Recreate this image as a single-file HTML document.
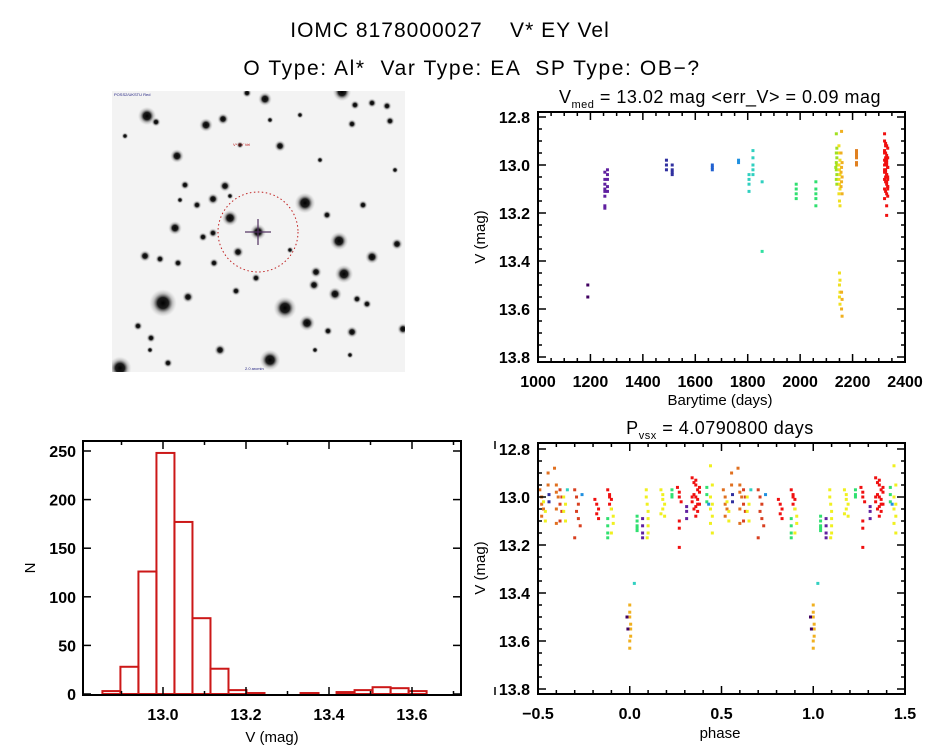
<!DOCTYPE html>
<html><head><meta charset="utf-8">
<style>
html,body{margin:0;padding:0;background:#fff;}
svg{display:block;font-family:"Liberation Sans",sans-serif;}
</style></head>
<body>
<svg id="root" width="944" height="747" viewBox="0 0 944 747" xmlns="http://www.w3.org/2000/svg">
<defs>
<radialGradient id="star" cx="50%" cy="50%" r="50%">
<stop offset="0%" stop-color="#000"/>
<stop offset="40%" stop-color="#111" stop-opacity="0.95"/>
<stop offset="70%" stop-color="#666" stop-opacity="0.35"/>
<stop offset="100%" stop-color="#aaa" stop-opacity="0"/>
</radialGradient>
<clipPath id="skyclip"><rect x="112" y="91" width="293" height="281"/></clipPath>
</defs>
<text x="450" y="37" font-size="21" letter-spacing="1" text-anchor="middle">IOMC 8178000027 &#160;&#160; V* EY Vel</text>
<text x="472" y="75" font-size="21" letter-spacing="1.6" text-anchor="middle">O Type: Al* &#160;Var Type: EA &#160;SP Type: OB−?</text>
<g id="sky" clip-path="url(#skyclip)">
<rect x="112" y="91" width="293" height="281" fill="#f3f3f3"/>
</g>
<g id="lc"></g>
<g id="hist"></g>
<g id="ph"></g>
<g fill="#000">
<rect x="537" y="111" width="369" height="2"/>
<rect x="537" y="361" width="369" height="2"/>
<rect x="537" y="111" width="2" height="252"/>
<rect x="904" y="111" width="2" height="252"/>
<rect x="82" y="440" width="380" height="2"/>
<rect x="82" y="694" width="380" height="2"/>
<rect x="82" y="440" width="2" height="256"/>
<rect x="460" y="440" width="2" height="256"/>
<rect x="537" y="442" width="369" height="2"/>
<rect x="537" y="693" width="369" height="2"/>
<rect x="537" y="442" width="2" height="253"/>
<rect x="904" y="442" width="2" height="253"/>
</g>
</svg>
<script>
// ---------- light curve data ----------
const lcColors = ['#400060','#6020a0','#3030a0','#2060d0','#2090e0','#30d0c0','#30e0a0','#30e070','#a0e020','#f0e020','#f0b020','#e08020','#f01010'];
const lcTimes = [
 [1190,1190],
 [1255,1255,1255,1255,1255,1255,1255,1255,1265,1265,1265,1265,1265],
 [1490,1490,1490,1512,1512,1512,1512],
 [1665,1665,1665],
 [1765,1765],
 [1805,1805,1805,1805,1820,1820,1820,1820,1820,1855],
 [1855],
 [1985,1985,1985,1985,2060,2060,2060,2060,2060],
 [2138,2140,2138,2140,2138,2140,2138,2140,2138,2140,2142,2136],
 [2148,2150,2152,2148,2150,2152,2148,2150,2152,2148,2150,2152,2150,2152,2150,2152,2150,2152],
 [2158,2156,2160,2158,2156,2160,2158,2156,2160,2158,2160,2158,2160],
 [2215,2215,2215,2215,2215,2215],
 [2322,2326,2330,2334,2322,2326,2330,2334,2322,2326,2330,2334,2322,2326,2330,2334,2322,2326,2330,2334,2322,2326,2330,2334,2322,2326,2330,2334,2322,2326,2330,2334,2322,2326,2330,2334,2322,2326,2330,2334,2322,2330,2330]
];
const lcMags = [
 [13.50,13.55],
 [13.03,13.06,13.08,13.10,13.11,13.13,13.17,13.18,13.02,13.04,13.06,13.09,13.11],
 [12.98,13.00,13.02,13.00,13.02,13.03,13.04],
 [13.00,13.01,13.02],
 [12.98,12.99],
 [13.04,13.06,13.08,13.11,12.94,12.97,13.00,13.02,13.04,13.07],
 [13.36],
 [13.08,13.10,13.12,13.14,13.07,13.10,13.12,13.14,13.17],
 [12.87,12.93,12.95,12.97,12.99,13.00,13.02,13.04,13.06,13.08,12.95,13.01],
 [12.92,12.95,12.98,13.00,13.02,13.04,13.06,13.08,13.10,13.12,13.15,13.17,13.45,13.48,13.50,13.53,13.55,13.58],
 [12.86,12.95,12.99,13.01,13.03,13.05,13.07,13.09,13.12,13.53,13.56,13.60,13.63],
 [12.94,12.95,12.96,12.97,12.99,13.00],
 [12.90,12.91,12.92,12.93,12.94,12.95,12.96,12.97,12.98,12.99,13.00,13.01,13.02,13.03,13.04,13.05,13.06,13.07,13.08,13.09,13.10,13.11,13.12,13.13,12.95,12.97,12.99,13.01,13.03,13.05,13.07,13.09,13.00,13.02,13.04,13.06,13.14,12.92,12.98,13.10,12.87,13.17,13.21]
];
const lcXTicks = [1000,1200,1400,1600,1800,2000,2200,2400];
const magTicks = [12.8,13.0,13.2,13.4,13.6,13.8];
const magTickLabels = ['12.8','13.0','13.2','13.4','13.6','13.8'];

// ---------- histogram data ----------
const histStart = 12.854;
const histWidth = 0.0434;
const histCounts = [3,28,126,248,177,78,26,4,1,0,0,1,0,2,4,7,6,3];
const histXTicks = [13.0,13.2,13.4,13.6];
const histXTickLabels = ['13.0','13.2','13.4','13.6'];
const histYTicks = [0,50,100,150,200,250];

// ---------- phase data ----------
const phColors = ['#f0b020','#400060','#30d0c0','#30e070','#6020a0','#f0f020','#f01010','#3030a0','#e07020','#d84020','#2090e0'];
const phColorIdx = [0,1,2,3,4,5,5,3,6,4,6,3,10,5,8,5,7,8,9,5,2,9,10,6,6,3,5];
const phPhases = [
 [0.0,0.0,0.0,0.005,0.005,0.005,0.0,0.0],
 [0.985,0.99],
 [0.025],
 [0.04,0.04,0.04,0.04,0.04],
 [0.07,0.07,0.07,0.07],
 [0.09,0.09,0.095,0.1,0.1,0.1,0.1,0.095],
 [0.17,0.18,0.18,0.19,0.18,0.17,0.19],
 [0.23,0.23,0.23],
 [0.26,0.27,0.27,0.28,0.27,0.27,0.27],
 [0.31,0.31,0.31],
 [0.34,0.35,0.36,0.37,0.38,0.35,0.36,0.37,0.34,0.38,0.36,0.35,0.37,0.36,0.38,0.34,0.36,0.37],
 [0.42,0.42,0.42],
 [0.43],
 [0.44,0.45,0.44,0.45,0.44,0.45,0.44,0.45],
 [0.51,0.52,0.52,0.53,0.52,0.555,0.555],
 [0.53,0.54,0.54],
 [0.56,0.56],
 [0.59,0.6,0.6,0.61,0.6,0.6],
 [0.62,0.63,0.62,0.63,0.62],
 [0.64,0.65,0.64,0.65],
 [0.66],
 [0.7,0.71,0.72,0.71,0.72,0.73,0.7],
 [0.74],
 [0.81,0.82,0.83,0.82,0.83],
 [0.88,0.89,0.9,0.89,0.9,0.89],
 [0.88,0.88,0.88,0.88],
 [0.9,0.91,0.91,0.9]
];
const phMags = [
 [13.45,13.48,13.50,13.53,13.55,13.58,13.60,13.63],
 [13.50,13.55],
 [13.36],
 [13.08,13.10,13.12,13.13,13.14],
 [13.09,13.12,13.15,13.17],
 [12.97,13.0,13.03,13.06,13.09,13.12,13.15,13.17],
 [12.97,12.99,13.01,13.03,13.05,13.07,13.08],
 [12.97,12.99,13.0],
 [12.96,12.98,13.0,13.02,13.1,13.13,13.21],
 [13.04,13.06,13.09],
 [12.92,12.94,12.95,12.97,12.98,12.99,13.0,13.01,13.02,13.03,13.04,13.05,13.06,13.08,12.96,13.0,12.93,13.03],
 [12.96,12.99,13.02],
 [13.03],
 [12.87,12.95,13.0,13.03,13.05,13.08,13.11,13.15],
 [12.97,13.0,13.03,13.05,13.08,12.9,12.95],
 [13.02,13.06,13.1],
 [12.99,13.02],
 [12.88,12.95,12.98,13.0,13.05,13.11],
 [12.97,13.0,13.03,13.06,13.1],
 [13.0,13.03,13.06,13.1],
 [12.97],
 [12.97,13.0,13.03,13.06,13.09,13.12,13.17],
 [12.99],
 [13.01,13.03,13.05,13.07,13.09],
 [12.97,12.99,13.01,13.03,13.05,13.0],
 [13.09,13.12,13.15,13.17],
 [13.05,13.08,13.11,13.15]
];
const phXTicks = [-0.5,0.0,0.5,1.0,1.5];
const phXTickLabels = ['−0.5','0.0','0.5','1.0','1.5'];

// ---------- sky image stars (decorative) ----------
const stars = [[147,116,8],[156,122,4],[206,125,6],[223,119,5],[265,99,6],[247,93,4],[342,92,8],[355,105,4],[372,103,4],[387,106,4],[352,124,4],[390,121,4],[177,156,6],[280,146,5],[225,186,5],[213,199,5],[230,218,7],[185,185,4],[175,228,6],[197,205,4],[203,237,4],[213,233,4],[238,252,5],[305,203,9],[327,215,4],[339,241,8],[397,244,5],[372,257,6],[145,256,5],[160,259,4],[178,263,4],[214,263,4],[316,272,5],[344,274,8],[314,285,5],[335,294,6],[357,299,4],[367,304,4],[163,303,12],[188,297,5],[236,291,4],[285,308,10],[307,323,7],[328,331,4],[352,332,5],[403,329,5],[138,326,4],[220,350,5],[270,360,9],[120,368,10],[168,363,4],[151,338,4],[256,278,4],[363,205,4],[258,232,7],[230,196,3],[320,160,3],[125,136,3],[300,115,3],[150,350,3],[395,170,3],[290,250,3],[180,200,3],[350,355,3],[315,350,3],[240,145,3],[270,120,3]];

const NS = 'http://www.w3.org/2000/svg';
function mk(tag, attrs, parent){
  const e = document.createElementNS(NS, tag);
  for (const k in attrs) e.setAttribute(k, attrs[k]);
  parent.appendChild(e);
  return e;
}
// sky
const sky = document.getElementById('sky');
stars.forEach(s => {
  const c = mk('circle', {cx:s[0], cy:s[1], r:s[2]*1.15, fill:'url(#star)'}, sky);
  
  
});
const ring = mk('circle', {cx:258, cy:232, r:40, fill:'none', stroke:'#c02020', 'stroke-width':1, 'stroke-dasharray':'1.5 2.5'}, sky);


const cross1 = mk('rect', {x:245, y:231.4, width:26, height:1.2, fill:'#503060'}, sky);


const cross2 = mk('rect', {x:257.4, y:219, width:1.2, height:26, fill:'#503060'}, sky);


[[114,96,'POSS2/UKSTU Red'],[233,146,'V* EY Vel'],[245,370,'2.0 arcmin']].forEach(t=>{
  const e = mk('text', {x:t[0], y:t[1], 'font-size':4, fill: t[1]===146?'#c02020':'#202080'}, sky);
  e.textContent = t[2];
  
  
});

// ticks drawn as thin filled rects
function xTick(g, x, y0, y1, len){
  const a = mk('rect', {x:x-0.75, y:y1-len, width:1.5, height:len, fill:'#000'}, g);
  
  
  const b = mk('rect', {x:x-0.75, y:y0, width:1.5, height:len, fill:'#000'}, g);
  
  
}
function yTick(g, y, x0, x1, len){
  const a = mk('rect', {x:x0, y:y-0.75, width:len, height:1.5, fill:'#000'}, g);
  
  
  const b = mk('rect', {x:x1-len, y:y-0.75, width:len, height:1.5, fill:'#000'}, g);
  
  
}
function label(g, x, y, txt, anchor, name, size){
  const e = mk('text', {x:x, y:y, 'font-size':size||16, 'text-anchor':anchor||'middle', 'font-weight':'bold'}, g);
  e.textContent = txt;
  
  
  return e;
}
function vlabel(g, x, y, txt, name){
  const e = mk('text', {x:0, y:0, 'font-size':15, 'text-anchor':'middle', transform:'translate(' + x + ',' + y + ') rotate(-90)'}, g);
  e.textContent = txt;
  
  
}

// ---------- light curve ----------
const lc = document.getElementById('lc');
const LX0=538, LX1=905, LY0=112, LY1=362;
const lsx = t => LX0 + (t-1000)/1400*(LX1-LX0);
const lsy = m => 117 + (m-12.8)*240;
lcTimes.forEach((ts, gi) => {
  ts.forEach((t, i) => {
    const d = mk('rect', {x:lsx(t)-1.5, y:lsy(lcMags[gi][i])-1.5, width:3, height:3, fill:lcColors[gi]}, lc);
    
    
  });
});
for (let k=0; k<=28; k++) xTick(lc, lsx(1000+k*50), LY0, LY1, k%4===0?8:4);
for (let k=0; k<=20; k++) yTick(lc, lsy(12.8+k*0.05), LX0, LX1, k%4===0?8:4);
lcXTicks.forEach(t => label(lc, lsx(t), 387, String(t), 'middle', 'x-tick-label'));
magTicks.forEach((m,i) => label(lc, 530, lsy(m)+6, magTickLabels[i], 'end', 'y-tick-label'));
label(lc, 720, 405, 'Barytime (days)', 'middle', 'x-axis-title', 15).setAttribute('font-weight','normal');
vlabel(lc, 485, 237, 'V (mag)', 'y-axis-title');
{
  const t = mk('text', {x:720, y:103, 'font-size':18, 'text-anchor':'middle', 'letter-spacing':'0.5'}, lc);
  
  
  t.innerHTML = 'V<tspan font-size="11" dy="5">med</tspan><tspan dy="-5"> = 13.02 mag &lt;err_V&gt; = 0.09 mag</tspan>';
}

// ---------- histogram ----------
const hg = document.getElementById('hist');
const HX0=83, HX1=461, HY0=441, HY1=695;
const hsx = v => 163 + (v-13.0)*415;
const hsy = n => 694 - n*(243/250);
histCounts.forEach((n, i) => {
  const x0 = hsx(histStart + i*histWidth), x1 = hsx(histStart + (i+1)*histWidth);
  const b = mk('rect', {x:x0, y:hsy(n), width:x1-x0, height:694-hsy(n), fill:'none', stroke:'#cc1818', 'stroke-width':2}, hg);
  
  
});
for (let k=0; k<=9; k++){ xTick(hg, hsx(12.9 + k*0.1), HY0, HY1, k%2===1?8:4); }
histYTicks.forEach(n => yTick(hg, hsy(n), HX0, HX1, 8));
histXTicks.forEach((v,i) => label(hg, hsx(v), 720, histXTickLabels[i], 'middle', 'x-tick-label'));
histYTicks.forEach(n => label(hg, 76, hsy(n)+6, String(n), 'end', 'y-tick-label'));
label(hg, 272, 742, 'V (mag)', 'middle', 'x-axis-title', 15).setAttribute('font-weight','normal');
vlabel(hg, 35, 568, 'N', 'y-axis-title');

// ---------- phase ----------
const ph = document.getElementById('ph');
const PX0=538, PX1=905, PY0=443, PY1=694;
const psx = p => PX0 + (p+0.5)/2*(PX1-PX0);
const psy = m => 449 + (m-12.8)*240;
phPhases.forEach((ps, gi) => {
  ps.forEach((p, i) => {
    [p-1, p, p+1].forEach(q => {
      if (q < -0.5 || q > 1.5) return;
      const d = mk('rect', {x:psx(q)-1.5, y:psy(phMags[gi][i])-1.5, width:3, height:3, fill:phColors[phColorIdx[gi]]}, ph);
      
      
    });
  });
});
for (let k=0; k<=20; k++) xTick(ph, psx(-0.5+k*0.1), PY0, PY1, k%5===0?8:4);
for (let k=0; k<=20; k++) yTick(ph, psy(12.8+k*0.05), PX0, PX1, k%4===0?8:4);
phXTicks.forEach((p,i) => label(ph, psx(p), 719, phXTickLabels[i], 'middle', 'x-tick-label'));
magTicks.forEach((m,i) => label(ph, 530, psy(m)+6, magTickLabels[i], 'end', 'y-tick-label'));
label(ph, 720, 738, 'phase', 'middle', 'x-axis-title', 15).setAttribute('font-weight','normal');
vlabel(ph, 485, 568, 'V (mag)', 'y-axis-title');
{
  const t = mk('text', {x:720, y:434, 'font-size':18, 'text-anchor':'middle', 'letter-spacing':'0.5'}, ph);
  
  
  t.innerHTML = 'P<tspan font-size="11" dy="5">vsx</tspan><tspan dy="-5"> = 4.0790800 days</tspan>';
}
</script>
</body></html>
